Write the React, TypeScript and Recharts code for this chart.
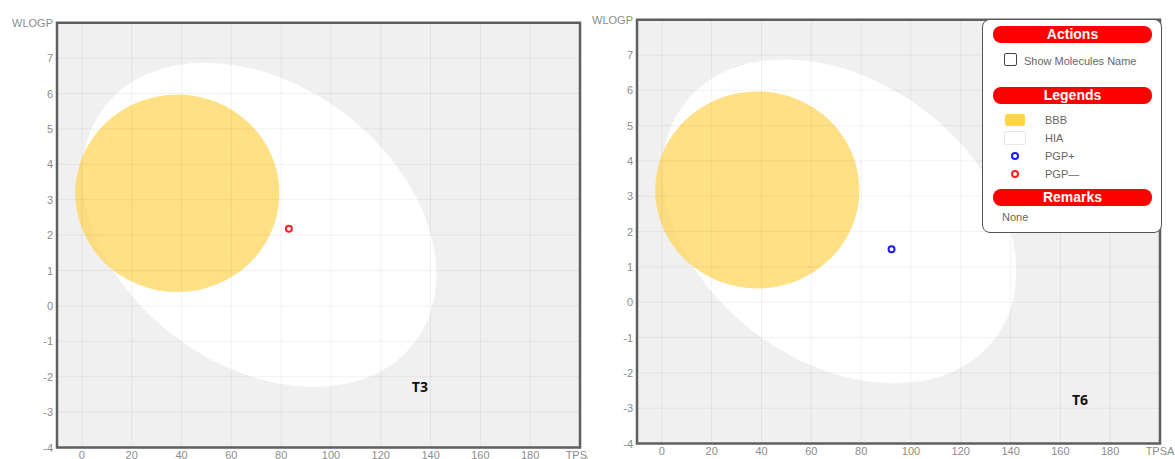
import React from "react";
import {
  ScatterChart,
  Scatter,
  XAxis,
  YAxis,
  CartesianGrid,
  ReferenceArea,
  ReferenceDot,
} from "recharts";

const xTicks = [0, 20, 40, 60, 80, 100, 120, 140, 160, 180, 200];
const yTicks = [-4, -3, -2, -1, 0, 1, 2, 3, 4, 5, 6, 7, 8];
const xDomain = [-10, 200];
const yDomain = [-4, 8];
const xTitle = "TPSA";
const yTitle = "WLOGP";

// egg white (HIA) and yolk (BBB): centre [TPSA, WLOGP], half axes [TPSA, WLOGP], tilt in degrees
const hiaCenter = [71.3, 2.29];
const hiaHalfAxes = [78.2, 3.96];
const hiaTilt = 37;
const bbbCenter = [38.3, 3.18];
const bbbHalfAxes = [41, 2.79];
const bbbTilt = 0;

// molecules
const t3Points = [{ tpsa: 83.1, wlogp: 2.18 }];
const t6Points = [{ tpsa: 92.2, wlogp: 1.5 }];
const t3LabelAt = [135.7, -2.29];
const t6LabelAt = [167.9, -2.78];

const PGP_POS = "#1a1aff";
const PGP_NEG = "#ff1f1f";
const YOLK = "#ffd65c";
const FONT = "'Liberation Sans', Arial, sans-serif";

const legendItems = [
  { name: "BBB", kind: "box", color: "#ffd54a" },
  { name: "HIA", kind: "box", color: "#ffffff" },
  { name: "PGP+", kind: "ring", color: PGP_POS },
  { name: "PGP\u2014", kind: "ring", color: PGP_NEG },
];

const XTick = (props: any) => {
  const { x, y, payload } = props;
  const label = payload.value === 200 ? xTitle : String(payload.value);
  return (
    <text x={x} y={y} dy={11} textAnchor="middle" fontSize={11} fill="#8c8c8c" fontFamily={FONT}>
      {label}
    </text>
  );
};

const YTick = (props: any) => {
  const { x, y, payload } = props;
  const label = payload.value === 8 ? yTitle : String(payload.value);
  return (
    <text x={x - 4} y={y} dy={4} textAnchor="end" fontSize={11} fill="#8c8c8c" fontFamily={FONT}>
      {label}
    </text>
  );
};

// draws an ellipse inscribed in the area box, tilted around its centre
const ellipseShape = (fill: string, opacity: number, tilt: number) => (props: any) => {
  const { x, y, width, height } = props;
  const cx = x + width / 2;
  const cy = y + height / 2;
  return (
    <ellipse
      cx={cx}
      cy={cy}
      rx={Math.abs(width) / 2}
      ry={Math.abs(height) / 2}
      fill={fill}
      fillOpacity={opacity}
      transform={`rotate(${tilt} ${cx} ${cy})`}
    />
  );
};

const ringShape = (color: string) => (props: any) => (
  <circle cx={props.cx} cy={props.cy} r={3} fill="#fff" stroke={color} strokeWidth={2} />
);

type PlotProps = {
  name: string;
  points: { tpsa: number; wlogp: number }[];
  color: string;
  labelAt: number[];
  left: number;
  clip: number;
  width: number;
  top: number;
  bottom: number;
  axisWidth: number;
  right: number;
};

function EggPlot({ name, points, color, labelAt, left, clip, width, top, bottom, axisWidth, right }: PlotProps) {
  return (
    <div style={{ position: "absolute", left, top: 0, width: clip, height: 459, overflow: "hidden" }}>
      <ScatterChart width={width} height={459} margin={{ top, right, bottom: 0, left: 0 }}>
        <XAxis
          type="number"
          dataKey="tpsa"
          domain={xDomain}
          ticks={xTicks}
          allowDataOverflow
          height={bottom}
          axisLine={false}
          tickLine={false}
          tickSize={0}
          tickMargin={0}
          tick={<XTick />}
          interval={0}
        />
        <YAxis
          type="number"
          dataKey="wlogp"
          domain={yDomain}
          ticks={yTicks}
          allowDataOverflow
          width={axisWidth}
          axisLine={false}
          tickLine={false}
          tickSize={0}
          tickMargin={0}
          tick={<YTick />}
          interval={0}
        />
        <ReferenceArea
          x1={xDomain[0]}
          x2={xDomain[1]}
          y1={yDomain[0]}
          y2={yDomain[1]}
          fill="#f0f0f0"
          fillOpacity={1}
          zIndex={1}
        />
        <ReferenceArea
          x1={hiaCenter[0] - hiaHalfAxes[0]}
          x2={hiaCenter[0] + hiaHalfAxes[0]}
          y1={hiaCenter[1] - hiaHalfAxes[1]}
          y2={hiaCenter[1] + hiaHalfAxes[1]}
          shape={ellipseShape("#ffffff", 1, hiaTilt)}
          zIndex={2}
        />
        <ReferenceArea
          x1={bbbCenter[0] - bbbHalfAxes[0]}
          x2={bbbCenter[0] + bbbHalfAxes[0]}
          y1={bbbCenter[1] - bbbHalfAxes[1]}
          y2={bbbCenter[1] + bbbHalfAxes[1]}
          shape={ellipseShape(YOLK, 0.75, bbbTilt)}
          zIndex={3}
        />
        <CartesianGrid stroke="#000" strokeOpacity={0.055} zIndex={4} />
        <ReferenceArea
          x1={xDomain[0]}
          x2={xDomain[1]}
          y1={yDomain[0]}
          y2={yDomain[1]}
          fill="none"
          stroke="#5f5f5f"
          strokeWidth={2.5}
          zIndex={5}
        />
        <Scatter data={points} isAnimationActive={false} shape={ringShape(color)} zIndex={6} />
        <ReferenceDot
          x={labelAt[0]}
          y={labelAt[1]}
          r={0}
          zIndex={7}
          shape={(p: any) => (
            <text
              x={p.cx}
              y={p.cy}
              dy={5}
              textAnchor="middle"
              fontSize={14}
              fontWeight="bold"
              fontFamily="'Open Sans', sans-serif"
              fill="#111"
            >
              {name}
            </text>
          )}
        />
      </ScatterChart>
    </div>
  );
}

function LegendPanel() {
  const pill: React.CSSProperties = {
    background: "#ff0000",
    color: "#fff",
    fontWeight: "bold",
    fontSize: 14,
    height: 17,
    lineHeight: "17px",
    borderRadius: 8,
    textAlign: "center",
    margin: "0 9px 0 10px",
  };
  return (
    <div
      style={{
        position: "absolute",
        left: 982,
        top: 19,
        width: 178,
        height: 212,
        background: "#fff",
        border: "1px solid #555",
        borderRadius: 8,
        fontFamily: FONT,
        boxSizing: "content-box",
      }}
    >
      <div style={{ ...pill, marginTop: 6 }}>Actions</div>
      <div style={{ display: "flex", alignItems: "center", marginTop: 9, marginLeft: 21, height: 14 }}>
        <span
          style={{
            width: 11,
            height: 11,
            border: "1px solid #444",
            borderRadius: 2,
            display: "inline-block",
          }}
        />
        <span style={{ fontSize: 11, color: "#666", marginLeft: 7, marginTop: 3 }}>Show Molecules Name</span>
      </div>
      <div style={{ ...pill, marginTop: 21 }}>Legends</div>
      <div style={{ marginTop: 7 }}>
        {legendItems.map((it) => (
          <div key={it.name} style={{ display: "flex", alignItems: "center", height: 18 }}>
            <div style={{ width: 60, display: "flex", justifyContent: "center", paddingLeft: 2 }}>
              {it.kind === "box" ? (
                <span
                  style={{
                    width: 20,
                    height: 12,
                    background: it.color,
                    border: it.color === "#ffffff" ? "1px solid #e6e6e6" : "none",
                    borderRadius: 2,
                    display: "inline-block",
                  }}
                />
              ) : (
                <svg width={10} height={10}>
                  <circle cx={5} cy={5} r={3} fill="#fff" stroke={it.color} strokeWidth={2} />
                </svg>
              )}
            </div>
            <span style={{ fontSize: 11, color: "#666" }}>{it.name}</span>
          </div>
        ))}
      </div>
      <div style={{ ...pill, marginTop: 6 }}>Remarks</div>
      <div style={{ fontSize: 11, color: "#666", marginLeft: 19, marginTop: 5 }}>None</div>
    </div>
  );
}

export default function App() {
  return (
    <div style={{ position: "absolute", left: 0, top: 0, width: 1175, height: 459, background: "#fff", overflow: "hidden" }}>
      <EggPlot
        name="T3"
        points={t3Points}
        color={PGP_NEG}
        labelAt={t3LabelAt}
        left={0}
        clip={588}
        width={600}
        top={22.7}
        bottom={11.5}
        axisWidth={57}
        right={20}
      />
      <EggPlot
        name="T6"
        points={t6Points}
        color={PGP_POS}
        labelAt={t6LabelAt}
        left={588}
        clip={587}
        width={587}
        top={19.7}
        bottom={15.5}
        axisWidth={49}
        right={15}
      />
      <LegendPanel />
    </div>
  );
}
